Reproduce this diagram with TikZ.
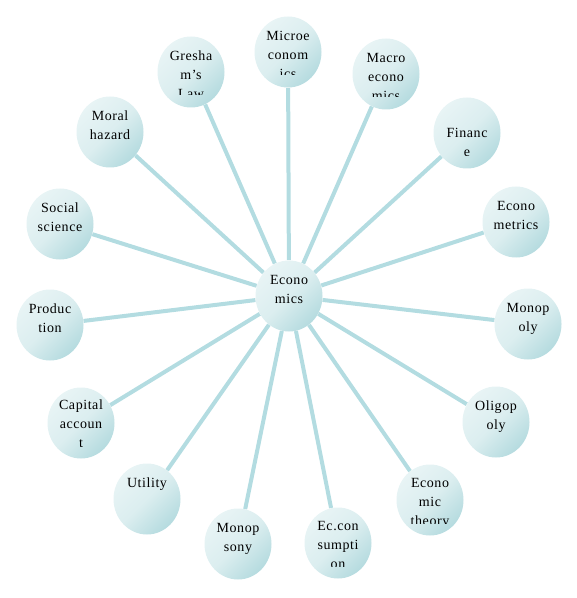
\documentclass[tikz,border=0pt]{standalone}
\usepackage{fontspec}
\setmainfont{Liberation Serif}[LetterSpace=4]
\usetikzlibrary{shapes.geometric,backgrounds}
\definecolor{bubbleLight}{HTML}{E8F4F5}
\definecolor{bubbleDark}{HTML}{B5DBDF}
\definecolor{spoke}{HTML}{B3DCE1}

\begin{document}
\begin{tikzpicture}[
    x=0.75pt, y=-0.75pt,
    every node/.style={font=\fontsize{10.5pt}{14.25pt}\selectfont},
    bubble/.style 2 args={
        ellipse,
        minimum width=50.25pt,
        minimum height=53.25pt,
        inner sep=0pt,
        top color=bubbleLight,
        bottom color=bubbleDark,
        middle color=bubbleLight!75!bubbleDark,
        shading angle=45,
        path picture={
            \begin{scope}[shift={(path picture bounding box.center)}]
            \clip (-34,-37) rectangle (34,23);
            \node[rectangle, minimum width=0pt, minimum height=0pt, anchor=north,
                  align=center, inner sep=0pt, text=black] at (0,#1) {#2};
            \end{scope}
        }
    },
    spokeline/.style={draw=spoke, line width=3pt}
]

\useasboundingbox (0,0) rectangle (576,598);

\node[bubble={-21}{Econo\\mics}] (eco) at (289,296) {};

\node[bubble={-21}{Microe\\conom\\ics}] (micro) at (288,52) {};
\node[bubble={-21}{Macro\\econo\\mics}] (macro) at (386,74) {};
\node[bubble={-5}{Financ\\e}] (fin) at (467,133) {};
\node[bubble={-21}{Econo\\metrics}] (metr) at (516,222) {};
\node[bubble={-21}{Monop\\oly}] (mono) at (528,324) {};
\node[bubble={-21}{Oligop\\oly}] (oligo) at (496,422) {};
\node[bubble={-22}{Econo\\mic\\theory}] (theory) at (430,500) {};
\node[bubble={-22}{Ec.con\\sumpti\\on}] (cons) at (338,543) {};
\node[bubble={-21}{Monop\\sony}] (monops) at (238,544) {};
\node[bubble={-21}{Utility}] (util) at (147,499) {};
\node[bubble={-23}{Capital\\accoun\\t}] (capital) at (81,423) {};
\node[bubble={-21}{Produc\\tion}] (prod) at (50,325) {};
\node[bubble={-21}{Social\\science}] (social) at (60,224) {};
\node[bubble={-21}{Moral\\hazard}] (moral) at (110,132) {};
\node[bubble={-21}{Gresha\\m’s\\Law}] (gresham) at (191,72) {};

% spokes behind the bubbles
\begin{scope}[on background layer]
\foreach \n in {micro,macro,fin,metr,mono,oligo,theory,cons,monops,util,capital,prod,social,moral,gresham}
    \draw[spokeline] (eco) -- (\n);
\end{scope}

\end{tikzpicture}
\end{document}
